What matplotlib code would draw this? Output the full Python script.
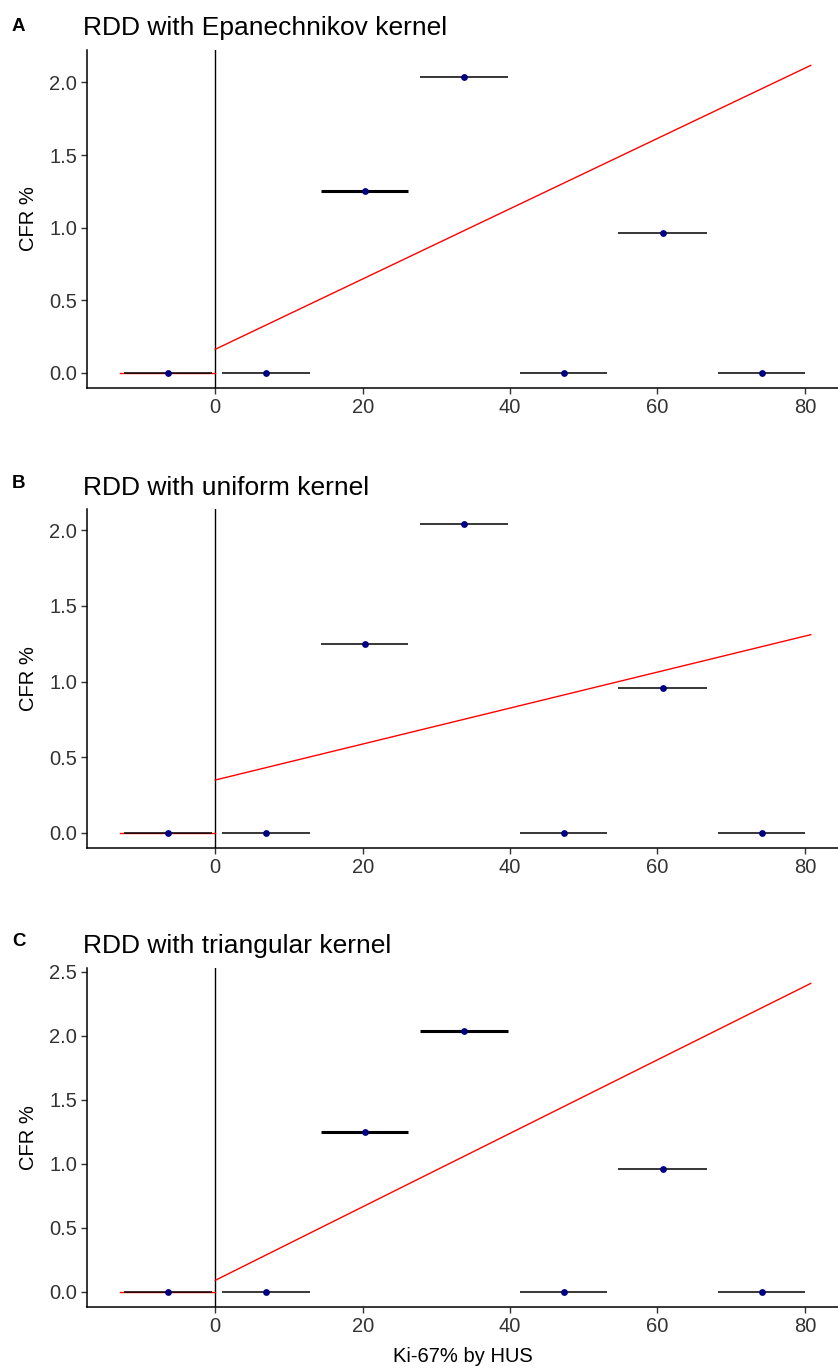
import matplotlib
matplotlib.use("Agg")
import matplotlib.pyplot as plt
import numpy as np

# ---- data ----
bin_lo = [-12.4, 0.9, 14.3, 27.8, 41.3, 54.7, 68.2]
bin_hi = [-0.4, 12.8, 26.2, 39.7, 53.2, 66.7, 80.0]
bin_mid = [-6.35, 6.9, 20.3, 33.8, 47.3, 60.7, 74.2]
cfr = [0.0, 0.0, 1.25, 2.04, 0.0, 0.96, 0.0]

panel_labels = ["A", "B", "C"]
panel_titles = ["RDD with Epanechnikov kernel", "RDD with uniform kernel",
                "RDD with triangular kernel"]
# fitted line to the left and right of the cutoff
left_fit_x = [-12.9, 0.0]
left_fit_y = [0.0, 0.0]
right_fit_x = [0.0, 80.8]
right_fit_y = {
    "A": [0.161, 2.118],
    "B": [0.348, 1.31],
    "C": [0.088, 2.41],
}
# bins drawn with heavier weight per panel
heavy_bins = {"A": [2], "B": [], "C": [2, 3]}
y_max_tick = {"A": 2.0, "B": 2.0, "C": 2.5}
x_ticks = [0, 20, 40, 60, 80]
x_label = "Ki-67% by HUS"
y_label = "CFR %"

# ---- layout ----
W, H = 838, 1369
plt.rcParams['font.family'] = ['Liberation Sans', 'DejaVu Sans']
fig = plt.figure(figsize=(W / 100, H / 100), dpi=100)

axes_px = {"A": (50, 388), "B": (509, 848), "C": (968, 1307)}
title_base = {"A": 35, "B": 495, "C": 953}
label_base = {"A": 31, "B": 488, "C": 946}
ax_left, ax_right = 87, 838
tick_color = "#333333"

for key, title in zip(panel_labels, panel_titles):
    top, bot = axes_px[key]
    ax = fig.add_axes([ax_left / W, 1 - bot / H, (ax_right - ax_left) / W, (bot - top) / H])
    ax.set_xlim(-17.4, 84.5)
    yl = right_fit_y[key]
    ymax_data = max(max(cfr), max(yl))
    ax.set_ylim(-0.05 * ymax_data, ymax_data * 1.05)

    ax.axvline(0, color="black", lw=1.0, zorder=1)
    ax.plot(left_fit_x, left_fit_y, color="red", lw=1.0, zorder=2)
    ax.plot(right_fit_x, yl, color="red", lw=1.0, zorder=2)
    for i in range(len(cfr)):
        lw = 2.2 if i in heavy_bins[key] else 1.1
        ax.plot([bin_lo[i], bin_hi[i]], [cfr[i], cfr[i]], color="black", lw=lw,
                solid_capstyle="butt", zorder=3)
    ax.scatter(bin_mid, cfr, s=24, color="#000080", zorder=4, linewidths=0)

    ax.set_xticks(x_ticks)
    ax.set_yticks(np.arange(0, y_max_tick[key] + 0.01, 0.5))
    ax.yaxis.set_major_formatter(matplotlib.ticker.FormatStrFormatter("%.1f"))
    for s in ["top", "right"]:
        ax.spines[s].set_visible(False)
    for s in ["left", "bottom"]:
        ax.spines[s].set_color("black")
        ax.spines[s].set_linewidth(1.1)
    ax.tick_params(axis="both", direction="out", length=4, width=1.0, color="#333333",
                   labelsize=14.5, labelcolor=tick_color, pad=3)

    fig.text(83 / W, 1 - title_base[key] / H, title, fontsize=19, va="baseline",
             ha="left", color="black")
    fig.text(12 / W, 1 - label_base[key] / H, key, fontsize=13.5, fontweight="bold",
             va="baseline", ha="left", color="black")
    fig.text(29 / W, 1 - (top + bot) / 2 / H, y_label, fontsize=14.5, rotation=90,
             va="center", ha="center", color="black")

fig.text((ax_left + ax_right) / 2 / W, 1 - 1356 / H, x_label, fontsize=14.5,
         ha="center", va="center", color="black")

fig.savefig("out.png", dpi=100, facecolor="white")
